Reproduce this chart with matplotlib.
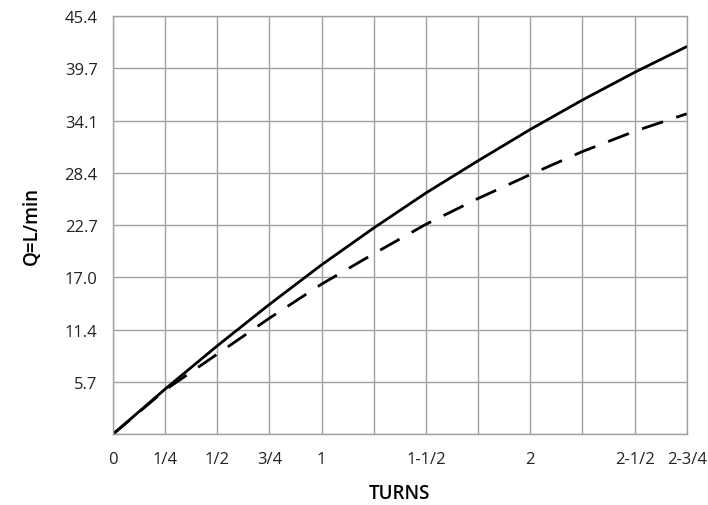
import matplotlib.pyplot as plt

plt.rcParams['font.family'] = ['Open Sans', 'DejaVu Sans']

# turns vs flow (L/min)
turns = [0, 0.25, 0.5, 0.75, 1.0, 1.25, 1.5, 1.75, 2.0, 2.25, 2.5, 2.75]
q_solid = [0, 4.9, 9.6, 14.1, 18.4, 22.4, 26.2, 29.7, 33.1, 36.3, 39.3, 42.1]
q_dashed = [0, 4.8, 8.7, 12.6, 16.3, 19.6, 22.8, 25.6, 28.2, 30.7, 32.9, 34.8]

xtick_pos = [0, 0.25, 0.5, 0.75, 1.0, 1.5, 2.0, 2.5, 2.75]
xtick_lab = ['0', '1/4', '1/2', '3/4', '1', '1-1/2', '2', '2-1/2', '2-3/4']
ytick_lab = ['5.7', '11.4', '17.0', '22.7', '28.4', '34.1', '39.7', '45.4']
y_step = 45.4 / 8

fig = plt.figure(figsize=(7.08, 5.06), dpi=100)
ax = fig.add_axes([0.1596, 0.140, 0.8104, 0.826])

ax.plot(turns, q_solid, color='black', lw=2.0, solid_joinstyle='round')
ax.plot(turns, q_dashed, color='black', lw=2.0, dashes=(8, 5))

ax.set_xlim(0, 2.75)
ax.set_ylim(0, 45.4)

# grid every quarter turn / every 1/8 of range
for i in range(12):
    ax.axvline(i * 0.25, color='#a0a0a0', lw=1.0, zorder=0)
for i in range(9):
    ax.axhline(i * y_step, color='#a0a0a0', lw=1.0, zorder=0)

ax.set_xticks(xtick_pos)
ax.set_xticklabels(xtick_lab)
ax.set_yticks([y_step * (i + 1) for i in range(8)])
ax.set_yticklabels(ytick_lab)
ax.tick_params(length=0, labelsize=12, colors='#222222')
ax.tick_params(axis='x', pad=12)
ax.tick_params(axis='y', pad=11)
for s in ax.spines.values():
    s.set_color('#a0a0a0')
    s.set_linewidth(1.0)

ax.set_xlabel('TURNS', fontsize=13.5, fontweight='semibold', labelpad=12)
ax.set_ylabel('Q=L/min', fontsize=13.5, fontweight='semibold', labelpad=16)

fig.savefig('out.png', dpi=100)
